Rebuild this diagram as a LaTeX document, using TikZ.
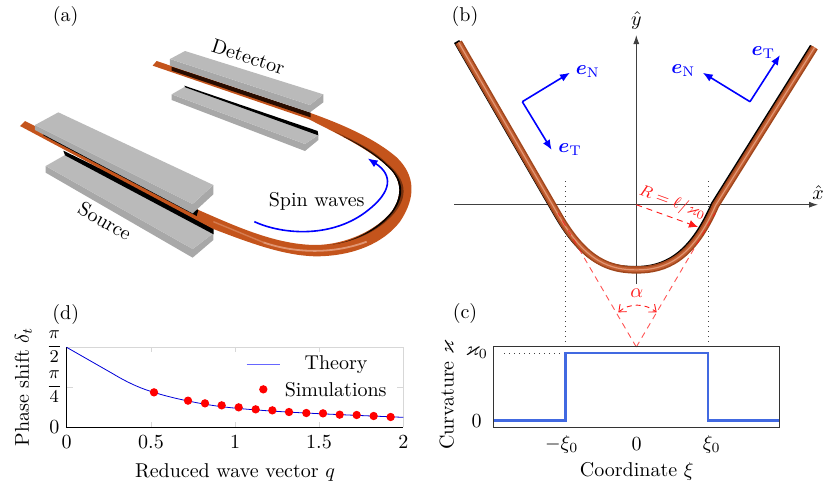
\documentclass[tikz,border=0pt]{standalone}
\usepackage{amsmath,amssymb,bm}
\usetikzlibrary{arrows.meta}
\definecolor{platetop}{RGB}{186,186,186}
\definecolor{plateside}{RGB}{168,168,168}
\definecolor{tubemain}{RGB}{196,84,28}
\definecolor{tubedark}{RGB}{120,50,14}
\definecolor{tubeb}{RGB}{160,70,28}
\definecolor{tubeblight}{RGB}{195,95,50}
\definecolor{tubehi}{RGB}{225,150,115}
\definecolor{underdark}{RGB}{40,12,0}
\definecolor{royal}{RGB}{65,105,225}
\definecolor{gridgrey}{RGB}{215,215,215}
\tikzset{
  top face/.style={fill=platetop},
  side face/.style={fill=plateside},
  lbl/.style={inner sep=0pt,font=\normalsize},
  vec/.style={blue,line width=.8pt,-{Latex[length=5pt,width=4pt]}},
  vlab/.style={inner sep=0pt,text=blue},
  axisline/.style={black!75,line width=.45pt,-{Latex[length=4.5pt,width=3pt]}},
  reddash/.style={red!90,line width=.45pt,dash pattern=on 3pt off 2.4pt},
  guide/.style={black!75,line width=.4pt,dash pattern=on .5pt off 2pt},
}
\newcommand{\tubeB}{(458,42) -- (558,215) .. controls (585,262) and (610,269.5) .. (636.3,269.5) .. controls (665,269.5) and (692,258) .. (715,205) -- (814,47)}
\begin{document}
\begin{tikzpicture}[x=.5pt,y=-.5pt]
\useasboundingbox (0,0) rectangle (831,489);
% ---------- panel a (coordinates of a 3x crop)
\begin{scope}[scale=1/3]
 % lower plates
 \fill[side face] (137,498)--(137,518)--(578,773)--(640,720)--(640,700)--(578,747)--cycle;
 \fill[top face] (137,498)--(195,465)--(640,700)--(578,747)--cycle;
 \fill[black] (190,452)--(330,520)--(620,672)--(641,685)--(641,703)--(195,466)--cycle;
 \fill[side face] (515,283)--(515,300)--(915,453)--(955,420)--(955,405)--(915,432)--cycle;
 \fill[top face] (515,283)--(555,260)--(955,405)--(915,432)--cycle;
 \fill[black] (553,257)--(953,393)--(955,406)--(556,262)--cycle;
 % tube
 \fill[tubemain] (470,183) -- (940,342)
   .. controls (1040,378) and (1130,420) .. (1190,472)
   .. controls (1245,525) and (1250,590) .. (1200,665)
   .. controls (1150,730) and (1060,768) .. (950,769)
   .. controls (850,768) and (740,725) .. (640,687)
   -- (60,378) -- (75,363) -- (600,632)
   .. controls (710,680) and (830,735) .. (950,735)
   .. controls (1040,733) and (1130,690) .. (1175,635)
   .. controls (1210,585) and (1205,535) .. (1160,497)
   .. controls (1110,450) and (1020,405) .. (925,357)
   -- (458,197) -- cycle;
 % dark inner crescent
 \fill[tubedark] (1000,393)
   .. controls (1060,420) and (1120,450) .. (1160,489)
   .. controls (1222,540) and (1225,590) .. (1181,642)
   .. controls (1130,700) and (1050,730) .. (985,734)
   .. controls (1040,733) and (1130,690) .. (1175,635)
   .. controls (1210,585) and (1205,535) .. (1160,497)
   .. controls (1120,460) and (1060,425) .. (1000,393) -- cycle;
 \fill[black] (1030,410)
   .. controls (1080,433) and (1125,460) .. (1160,493)
   .. controls (1214,538) and (1216,588) .. (1177,639)
   .. controls (1135,693) and (1060,724) .. (1000,733)
   .. controls (1060,725) and (1130,690) .. (1175,635)
   .. controls (1210,585) and (1205,535) .. (1160,497)
   .. controls (1125,463) and (1080,435) .. (1030,410) -- cycle;
 \draw[tubehi,line width=.9pt] (790,727) .. controls (860,752) and (980,770) .. (1100,725);
 \draw[tubehi!60!tubemain,line width=.7pt] (640,665) -- (790,727);
 % upper plates with their dark undersides
 \fill[underdark] (515,200)--(932,338)--(932,352)--(515,212)--cycle;
 \fill[side face] (510,177)--(510,197)--(930,337)--(970,307)--(970,283)--(930,315)--cycle;
 \fill[top face] (510,177)--(555,153)--(970,283)--(930,315)--cycle;
 \fill[black] (130,400)--(595,630)--(590,648)--(130,406)--cycle;
 \fill[side face] (105,375)--(105,390)--(578,640)--(640,583)--(640,555)--(578,612)--cycle;
 \fill[top face] (105,375)--(175,337)--(640,555)--(578,612)--cycle;
 % spin wave arrow
 \draw[blue,line width=.8pt,-{Latex[length=5pt,width=4pt]}] (763,665) .. controls (850,705) and (1000,715) .. (1105,630) .. controls (1175,575) and (1180,525) .. (1103,475);
 \node[lbl,rotate=-18] (det) at (745,170) {Detector};
 \node[lbl,rotate=-30] (src) at (315,663) {Source};
 \node[lbl] (sw) at (950,605) {Spin waves};
\end{scope}
\node[lbl] (la) at (65.7,16) {(a)};
% ---------- panel b
\node[lbl] (lb) at (465,16.7) {(b)};
\coordinate (xs) at (454,204.7); \coordinate (xe) at (818,204.7);
\coordinate (ys) at (636.3,284); \coordinate (ye) at (636.3,35);
\coordinate (O) at (636.3,204.7); \coordinate (apex) at (636.3,347);
\draw[axisline] (xs) -- (xe);
\draw[axisline] (ys) -- (ye);
\node[lbl] (xh) at (818,192.7) {$\hat{x}$};
\node[lbl] (yh) at (636.3,20) {$\hat{y}$};
\draw[guide] (565.3,181) -- (565.3,346.3);
\draw[guide] (708,181) -- (708,346.3);
\begin{scope}[shift={(-1.4,-.5)}]\draw[black,line width=3pt] \tubeB;\end{scope}
\begin{scope}[shift={(.6,.4)}]
 \draw[tubeb,line width=3.7pt] \tubeB;
 \draw[tubeblight,line width=2.2pt] \tubeB;
 \draw[tubehi,line width=.6pt] \tubeB;
\end{scope}
\draw[reddash,opacity=.75] (apex) -- (558,213);
\draw[reddash,opacity=.75] (apex) -- (715,213);
\draw[reddash,-{Latex[length=4.5pt,width=4pt]}] (O) -- (698,227);
\node[lbl,text=red!90,rotate=-20,font=\footnotesize] (rr) at (672.7,203) {$R=\ell/\varkappa_0$};
\draw[red!90,line width=.45pt,dash pattern=on 2.5pt off 2pt,{Straight Barb[length=3pt,width=5pt]}-{Straight Barb[length=3pt,width=5pt]}] (618.3,312.3) .. controls (629,303) and (645,303) .. (656.7,312.3);
\node[lbl,text=red!90] (al) at (636.7,293.3) {$\alpha$};
\coordinate (v1) at (522.3,101.7);
\node[vlab] (en1) at (587.7,71.7) {$\bm{e}_{\mathrm{N}}$};
\node[vlab] (et1) at (570,150) {$\bm{e}_{\mathrm{T}}$};
\draw[vec] (v1) -- (570,72.7);
\draw[vec] (v1) -- (551.7,150);
\coordinate (v2) at (750,101.7);
\node[vlab] (en2) at (683.3,71) {$\bm{e}_{\mathrm{N}}$};
\node[vlab] (et2) at (763.3,52.7) {$\bm{e}_{\mathrm{T}}$};
\draw[vec] (v2) -- (702.7,72.7);
\draw[vec] (v2) -- (780,55);
% ---------- panel c
\node[lbl] (lc) at (465,313) {(c)};
\draw[royal,line width=1.35pt] (493.7,420.3) -- (565.3,420.3) -- (565.3,353) -- (708,353) -- (708,420.3) -- (779.7,420.3);
\draw[black!80,line width=.5pt] (493.7,346.3) rectangle (779.7,427);
\draw[guide] (504,353) -- (560,353);
\node[lbl] (k0) at (476.7,352.7) {$\varkappa_0$};
\node[lbl] (k00) at (476.7,421) {$0$};
\node[lbl] (cx1) at (561.7,444) {$-\xi_0$};
\node[lbl] (cx2) at (636.7,444) {$0$};
\node[lbl] (cx3) at (711.7,444) {$\xi_0$};
\node[lbl] (cxl) at (636.7,471.7) {Coordinate $\xi$};
\node[lbl,rotate=90] (cyl) at (446.7,395) {Curvature $\varkappa$};
% ---------- panel d
\node[lbl] (ld) at (65.7,314) {(d)};
\foreach \qx in {151,235,319}{
  \draw[gridgrey,line width=.4pt] (\qx,347.3) -- +(0,5);
  \draw[gridgrey,line width=.4pt] (\qx,427) -- +(0,-5);
}
\draw[gridgrey,line width=.4pt] (66.7,387) -- +(6,0);
\draw[gridgrey,line width=.4pt] (403.3,387) -- +(-6,0);
\draw[gridgrey,line width=.5pt] (66.7,347.3) -- (403.3,347.3) -- (403.3,427);
\draw[black,line width=.5pt] (66.7,347.3) -- (66.7,427) -- (403.3,427);
\begin{scope}[shift={(0,300)},scale=1/3]
 \draw[blue!85!black,line width=.4pt] (200,142) -- (340,222) .. controls (390,252) and (430,268) .. (462,277) .. controls (510,293) and (600,312) .. (665,320) .. controls (800,336) and (1000,343) .. (1210,352);
 \foreach \px/\py in {462/277,564/302,615/310,665/316,716/322,767/328,817/331,867/336,919/339,969/340,1019/344,1070/345,1121/348,1172/351}
   \fill[red] (\px,\py) circle (12.5);
 \draw[blue!60,line width=.6pt] (740,193) -- (840,193);
 \fill[red] (790,268) circle (12.5);
 \node[lbl] (t1) at (1008,193) {Theory};
 \node[lbl] (t2) at (1007,268) {Simulations};
\end{scope}
\node[lbl] (dx0) at (66.7,441.7) {$0$};
\node[lbl] (dx1) at (151,441.7) {$0.5$};
\node[lbl] (dx2) at (235,441.7) {$1$};
\node[lbl] (dx3) at (319,441.7) {$1.5$};
\node[lbl] (dx4) at (403.3,441.7) {$2$};
\node[lbl] (dy0) at (54.3,427) {$0$};
\node[lbl,font=\small] (dy1) at (54.3,387) {$\dfrac{\pi}{4}$};
\node[lbl,font=\small] (dy2) at (54.3,347) {$\dfrac{\pi}{2}$};
\node[lbl,rotate=90] (dyl) at (23.3,387) {Phase shift $\delta_t$};
\node[lbl] (dxl) at (235,472.7) {Reduced wave vector $q$};
\end{tikzpicture}
\end{document}
